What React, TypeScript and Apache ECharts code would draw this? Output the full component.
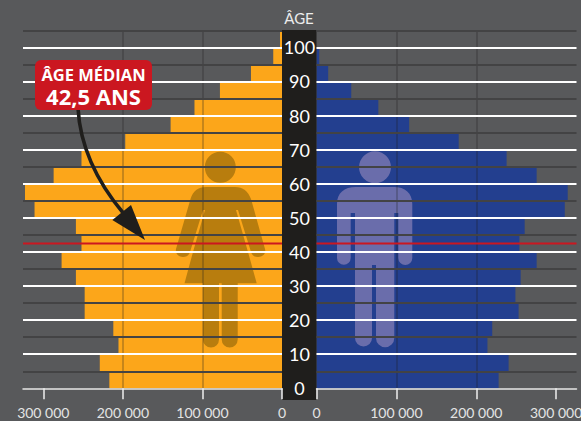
import React, { useEffect, useRef } from "react";
import * as echarts from "echarts";

const ageGroups = ["0-4","5-9","10-14","15-19","20-24","25-29","30-34","35-39","40-44","45-49","50-54","55-59","60-64","65-69","70-74","75-79","80-84","85-89","90-94","95-99","100+"];
const women = [217000,229000,205500,212000,248000,248000,259000,277000,252000,259000,311000,323000,287000,252000,197000,140000,110000,78000,39000,11000,2500];
const men = [228000,240500,214000,220000,253000,249000,255600,275600,254000,260600,310800,314500,275600,238000,178000,116000,77400,43500,14600,3400,0];
const popTicks = [0,100000,200000,300000];
const popMax = 325500;
const ageMax = 105;
const medianAge = 42.5;

const FONT = "Lato";
const GREY = "#58595b";
const INK = "#1f1e1c";
const RED = "#cb1720";

const womanPath = "M206,187 H235 C243,187 248,191 251,199 L265,249 C266.5,254 262,257 258,257 C254,257 252,255 251,252 L238,210 H236 L248,252 L256.7,283.3 H237.7 V339.5 A8,8 0 0 1 221.7,339.5 V283.3 H219 V339.5 A8,8 0 0 1 203,339.5 V283.3 H184.5 L193,252 L205,210 H203 L190,252 C189,255 187,257 183,257 C179,257 175,254 176,249 L190.5,199 C193,191 198,187 206,187 Z M235.8,167.3 A15.5,15.5 0 1 1 204.8,167.3 A15.5,15.5 0 1 1 235.8,167.3 Z";
const manPath = "M356,187 H394 C405,187 412.3,193 412.3,204 V258 A7,7 0 0 1 398.3,258 V213 H394.3 V338 A9.15,9.15 0 0 1 376,338 V265 H372 V338 A8.5,8.5 0 0 1 355,338 V213 H350.7 V258 A6.85,6.85 0 0 1 337,258 V204 C337,193 344,187 356,187 Z M391,167.3 A16,16 0 1 1 359,167.3 A16,16 0 1 1 391,167.3 Z";
echarts.graphic.registerShape("woman", (echarts.graphic as any).extendPath(womanPath, {}));
echarts.graphic.registerShape("man", (echarts.graphic as any).extendPath(manPath, {}));

const fmt = (v: number) => String(v).replace(/\B(?=(\d{3})+$)/g, " ");

function xAxis(gridIndex: number, inverse: boolean) {
  return {
    type: "value", gridIndex, inverse, min: 0, max: popMax, z: 4,
    axisLine: { show: true, onZero: false, lineStyle: { color: "#e6e6e6", width: 1.5 } },
    axisTick: { show: true, inside: false, length: 11, customValues: popTicks, lineStyle: { color: "#efefef", width: 1.5 } },
    axisLabel: { show: true, customValues: popTicks, margin: 17, color: "#e4e4e4", fontFamily: FONT, fontSize: 14, formatter: (v: number) => fmt(v) },
    splitLine: { show: true, showMinLine: false, showMaxLine: false, lineStyle: { color: "rgba(30,30,30,0.32)", width: 1.5 } },
  };
}
function catAxis(gridIndex: number) {
  return { type: "category", gridIndex, data: ageGroups, position: "left", axisLine: { show: false }, axisTick: { show: false }, axisLabel: { show: false }, splitLine: { show: false } };
}
function ageAxis(gridIndex: number, labels: boolean) {
  return {
    type: "value", gridIndex, min: 0, max: ageMax, interval: 5, position: "left", z: 5,
    axisLine: { show: false }, axisTick: { show: false },
    axisLabel: { show: labels, margin: 17, align: "center", color: "#ffffff", fontFamily: FONT, fontSize: 18, formatter: (v: number) => (v % 10 === 0 && v <= 100 ? String(v) : "") },
    splitLine: { show: true, showMinLine: false, lineStyle: { color: ["#434344", "#ffffff"], width: 2 } },
  };
}

export default function App() {
  const ref = useRef<HTMLDivElement>(null);
  useEffect(() => {
    const chart = echarts.init(ref.current!, undefined, { renderer: "svg" });
    chart.setOption({
      animation: false,
      backgroundColor: GREY,
      textStyle: { fontFamily: FONT },
      grid: [
        { left: 23, top: 30.3, width: 259, height: 358, outerBoundsMode: "none" },
        { left: 316.5, top: 30.3, width: 260, height: 358, outerBoundsMode: "none" },
      ],
      xAxis: [xAxis(0, true), xAxis(1, false)],
      yAxis: [catAxis(0), ageAxis(0, false), catAxis(1), ageAxis(1, true)],
      series: [
        { type: "bar", xAxisIndex: 0, yAxisIndex: 0, data: women, barWidth: "100%", itemStyle: { color: "#fca61a" }, silent: true, z: 2 },
        { type: "bar", xAxisIndex: 1, yAxisIndex: 2, data: men, barWidth: "100%", itemStyle: { color: "#233f8f" }, silent: true, z: 2 },
        { type: "line", xAxisIndex: 0, yAxisIndex: 1, data: [[0, medianAge], [popMax, medianAge]], showSymbol: false, lineStyle: { color: RED, width: 2 }, silent: true, z: 6 },
        { type: "line", xAxisIndex: 1, yAxisIndex: 3, data: [[0, medianAge], [popMax, medianAge]], showSymbol: false, lineStyle: { color: RED, width: 2 }, silent: true, z: 6 },
      ],
      graphic: [
        { type: "rect", z: 3, silent: true, shape: { x: 282, y: 30, width: 34.5, height: 370 }, style: { fill: INK } },
        { type: "woman", z: 3, silent: true, x: 0, y: 0, style: { fill: "#b87d0e" } },
        { type: "man", z: 3, silent: true, x: 0, y: 0, style: { fill: "#6a6dab" } },
        { type: "text", z: 8, x: 299, y: 18, style: { text: "ÂGE", fill: "#ececec", font: `15px ${FONT}`, textAlign: "center", textVerticalAlign: "middle" } },
        { type: "bezierCurve", z: 8, silent: true, shape: { x1: 78, y1: 108, cpx1: 80, cpy1: 145, cpx2: 97, cpy2: 182, x2: 124, y2: 214 }, style: { stroke: INK, lineWidth: 3.6, fill: "none" } },
        { type: "polygon", z: 8, silent: true, shape: { points: [[145, 240], [131, 205], [112.3, 220]] }, style: { fill: INK } },
        { type: "rect", z: 9, silent: true, shape: { x: 35, y: 60, width: 117, height: 50, r: 6 }, style: { fill: RED } },
        {
          type: "text", z: 10, x: 93.5, y: 85.5,
          style: {
            text: "{a|ÂGE MÉDIAN}\n{b|42,5 ANS}",
            textAlign: "center", textVerticalAlign: "middle",
            rich: {
              a: { fill: "#ffffff", fontFamily: "Open Sans", fontWeight: "bold", fontSize: 16.5, lineHeight: 20, align: "center" },
              b: { fill: "#ffffff", fontFamily: "Open Sans", fontWeight: "bold", fontSize: 22, lineHeight: 23, align: "center" },
            },
          },
        },
      ],
    });
    return () => chart.dispose();
  }, []);
  return <div ref={ref} style={{ position: "absolute", left: 0, top: 0, width: 581, height: 421 }} />;
}
